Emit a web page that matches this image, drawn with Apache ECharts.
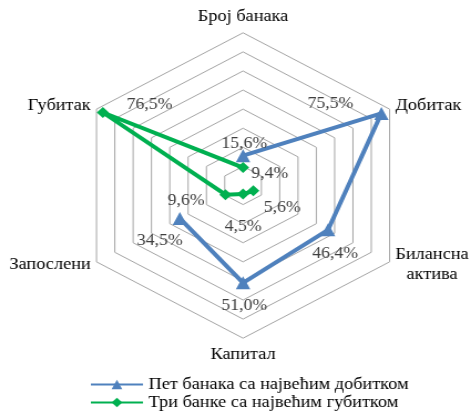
<!DOCTYPE html>
<html><head><meta charset="utf-8">
<script src="https://cdn.jsdelivr.net/npm/echarts@6/dist/echarts.min.js"></script>
<style>html,body{margin:0;padding:0;background:#fff;overflow:hidden}
#c{width:425px;height:415px;transform:scaleX(1.10824);transform-origin:0 0}</style>
</head><body><div id="c"></div>
<script>
// ---- data ----
const categories = ['Број банака', 'Добитак', 'Билансна\nактива', 'Капитал', 'Запослени', 'Губитак'];
const seriesNames = ['Пет банака са највећим добитком', 'Три банке са највећим губитком'];
const topProfit = [15.6, 75.5, 46.4, 51.0, 34.5, null];
const topLoss = [9.4, null, 5.6, 4.5, 9.6, 76.5];
const valueMax = 80;
const ringCount = 8;

// ---- label placement (style only) ----
const profitLabelOffsets = [[1, -12], [-46, -10], [6.5, 24], [1, 22.5], [-18, 22.5], null];
const lossLabelOffsets = [[24, 6], null, [26, 17], [0, 33], [-35.5, 6], [42, -8]];

const FONT = 'Liberation Serif';
const fmt = v => v.toFixed(1).replace('.', ',') + '%';

function buildData(values, offsets) {
  const n = values.length;
  const out = [];
  for (let i = 0; i <= n; i++) {
    const idx = i % n;
    const v = values[idx];
    const item = { value: [v == null ? '-' : v, i] };
    if (i < n && v != null && offsets[idx]) {
      item.label = { show: true, position: 'inside', offset: offsets[idx], formatter: fmt(v) };
    }
    if (i === n) item.symbol = 'none';
    out.push(item);
  }
  return out;
}

// radar lays indicators counter-clockwise; reference runs clockwise
const radarIndicators = [0, 5, 4, 3, 2, 1].map(i => ({ name: categories[i], min: 0, max: valueMax }));

const center = [219.3, 185.5];
const R = 152.7;

const chart = echarts.init(document.getElementById('c'), null, { renderer: 'canvas' });
chart.setOption({
  backgroundColor: '#fff',
  animation: false,
  textStyle: { fontFamily: FONT },
  radar: {
    center: center,
    radius: R,
    startAngle: 90,
    splitNumber: ringCount,
    shape: 'polygon',
    indicator: radarIndicators,
    axisLine: { show: false },
    axisTick: { show: false },
    axisLabel: { show: false },
    splitArea: { show: false },
    splitLine: { lineStyle: { color: '#a6a6a6', width: 1 } },
    axisNameGap: 6,
    axisName: {
      formatter: name => name.split('\n').map(s => '{a|' + s + '}').join('\n'),
      rich: { a: { align: 'center', fontFamily: FONT, fontSize: 16.5, lineHeight: 20, color: '#000' } },
      fontFamily: FONT, fontSize: 16.5, color: '#000'
    }
  },
  polar: { center: center, radius: R },
  angleAxis: { type: 'value', min: 0, max: categories.length, startAngle: 90, clockwise: true, show: false },
  radiusAxis: { type: 'value', min: 0, max: valueMax, show: false },
  legend: {
    orient: 'vertical', left: 81, top: 376, padding: 0, itemWidth: 47, itemHeight: 12, itemGap: 1,
    textStyle: { fontFamily: FONT, fontSize: 16.5, color: '#000' },
    data: seriesNames
  },
  series: [
    {
      name: seriesNames[0], type: 'line', coordinateSystem: 'polar',
      data: buildData(topProfit, profitLabelOffsets),
      symbol: 'triangle', symbolSize: 13, connectNulls: false,
      lineStyle: { width: 4, color: '#4f81bd' }, itemStyle: { color: '#4f81bd' },
      label: { show: false, fontFamily: FONT, fontSize: 16, color: '#404040' }
    },
    {
      name: seriesNames[1], type: 'line', coordinateSystem: 'polar',
      data: buildData(topLoss, lossLabelOffsets),
      symbol: 'diamond', symbolSize: 11, connectNulls: false,
      lineStyle: { width: 4, color: '#00b050' }, itemStyle: { color: '#00b050' },
      label: { show: false, fontFamily: FONT, fontSize: 16, color: '#404040' }
    }
  ]
});
</script></body></html>
